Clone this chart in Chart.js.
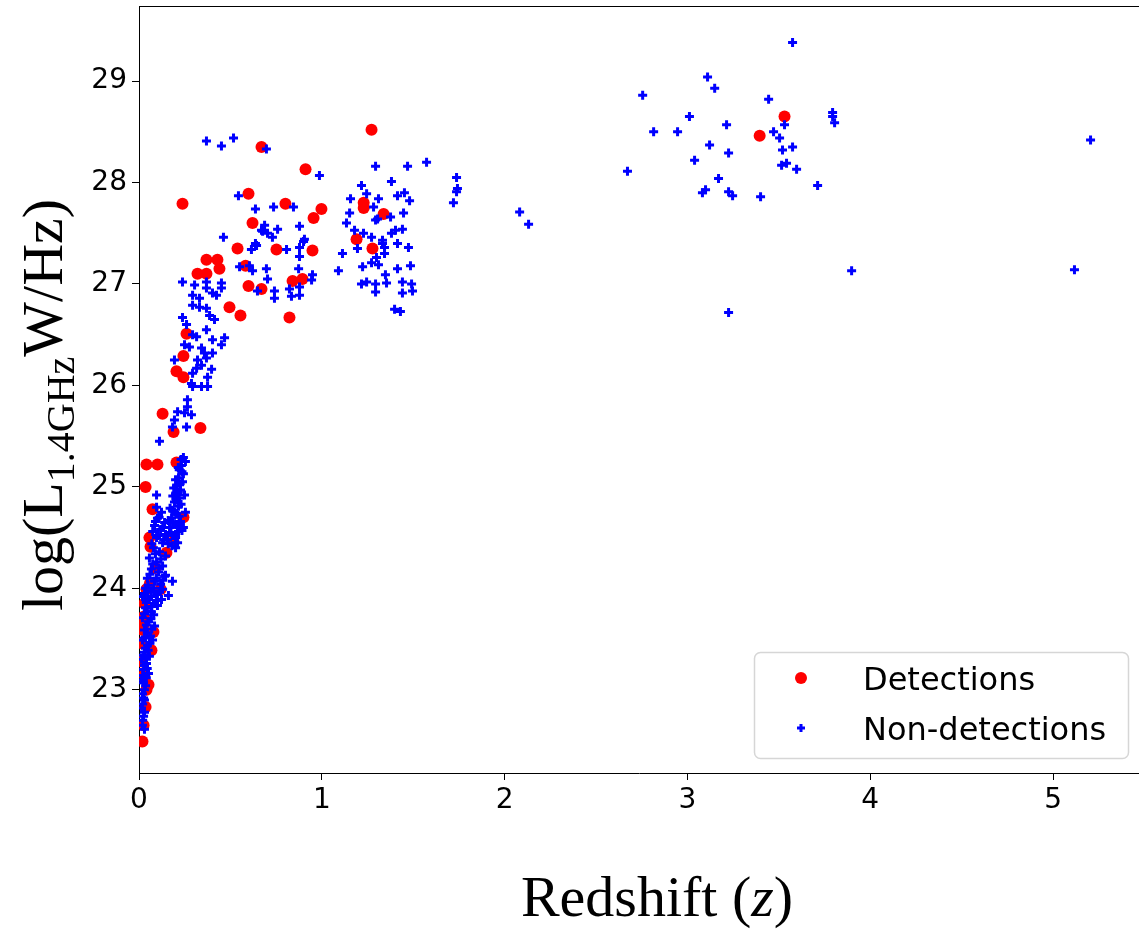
<!DOCTYPE html>
<html>
<head>
<meta charset="utf-8">
<script src="https://cdn.jsdelivr.net/npm/chart.js@4.4.1/dist/chart.umd.min.js"></script>
<style>
  html, body { margin: 0; padding: 0; background: #fff; }
  #wrap { width: 1139px; height: 932px; }
</style>
</head>
<body>
<div id="wrap"><canvas id="zChart" width="1139" height="932"></canvas></div>
<script>
// Detections (red circles): redshift z and log L(1.4GHz)
const detZLow = [0.041, 0.101, 0.205, 0.036, 0.074, 0.243, 0.189, 0.063, 0.150, 0.057,
  0.041, 0.118, 0.025, 0.025, 0.079, 0.014, 0.068, 0.014, 0.052, 0.041,
  0.036, 0.025, 0.019, 0.030, 0.019, 0.030, 0.060, 0.090];
const detLLow = [25.22, 25.22, 25.24, 25.00, 24.78, 24.70, 24.46, 24.41, 24.35, 24.50,
  23.99, 23.99, 23.72, 23.64, 23.57, 23.46, 23.39, 23.28, 23.05, 23.00,
  22.83, 22.65, 22.49, 23.85, 23.59, 23.15, 24.05, 24.20];

const detZHigh = [0.238, 0.599, 0.801, 0.998, 0.955, 0.621, 0.539, 0.949, 0.752, 0.369,
  0.429, 0.440, 0.320, 0.369, 0.583, 0.599, 0.670, 0.840, 0.894, 0.495,
  0.555, 0.823, 0.260, 0.243, 0.205, 0.243, 0.129, 0.189, 0.336, 1.272,
  0.911, 1.229, 1.229, 1.338, 1.190, 1.277, 0.670, 3.531, 3.395];
const detLHigh = [27.79, 27.89, 27.79, 27.74, 27.65, 27.60, 27.35, 27.33, 27.34, 27.24,
  27.24, 27.15, 27.10, 27.10, 27.18, 26.98, 26.95, 27.03, 27.05, 26.77,
  26.69, 26.67, 26.51, 26.29, 26.14, 26.08, 25.72, 25.54, 25.58, 28.52,
  28.13, 27.80, 27.75, 27.69, 27.44, 27.35, 28.35, 28.65, 28.46];

// Non-detections (blue plus)
const nonZCol = [0.243, 0.254, 0.232, 0.220, 0.243, 0.216, 0.238, 0.205, 0.227, 0.200,
  0.220, 0.194, 0.216, 0.183, 0.205, 0.178, 0.227, 0.200, 0.167, 0.216,
  0.189, 0.243, 0.156, 0.211, 0.254, 0.249];
const nonLCol = [25.29, 25.25, 25.21, 25.17, 25.13, 25.09, 25.05, 25.01, 24.97, 24.93,
  24.89, 24.85, 24.81, 24.77, 24.73, 24.69, 24.66, 24.63, 24.60, 24.56,
  24.52, 24.60, 24.48, 24.45, 24.75, 24.92];

const nonZStack = [0.096, 0.123, 0.101, 0.140, 0.085, 0.118, 0.145, 0.096, 0.129, 0.079,
  0.112, 0.145, 0.057, 0.096, 0.129, 0.068, 0.107, 0.140, 0.046, 0.085,
  0.118, 0.036, 0.068, 0.101, 0.019, 0.052, 0.085, 0.129, 0.145];
const nonLStack = [24.80, 24.75, 24.69, 24.65, 24.62, 24.58, 24.53, 24.50, 24.45, 24.40,
  24.36, 24.32, 24.30, 24.26, 24.22, 24.19, 24.16, 24.12, 24.10, 24.07,
  24.04, 24.00, 23.97, 23.94, 23.92, 23.89, 23.85, 23.99, 24.13];

const nonZBase = [0.036, 0.068, 0.101, 0.019, 0.052, 0.085, 0.030, 0.063, 0.019, 0.046,
  0.074, 0.030, 0.057, 0.014, 0.041, 0.025, 0.052, 0.014, 0.036, 0.019,
  0.030, 0.014, 0.025, 0.019, 0.030, 0.123,
  0.112, 0.096, 0.183, 0.161];
const nonLBase = [23.81, 23.77, 23.83, 23.71, 23.67, 23.63, 23.59, 23.53, 23.49, 23.44,
  23.49, 23.37, 23.33, 23.30, 23.26, 23.20, 23.16, 23.10, 23.04, 22.96,
  22.90, 22.82, 22.74, 22.65, 22.61, 23.89,
  25.45, 24.92, 24.07, 23.93];

// extra reads from the packed low-z columns
const nonZFill = [0.230, 0.215, 0.235, 0.200, 0.225, 0.190, 0.215, 0.185, 0.205, 0.230,
  0.170, 0.195, 0.220, 0.160, 0.185, 0.210, 0.235, 0.175, 0.200, 0.160,
  0.180, 0.200,
  0.110, 0.090, 0.130, 0.075, 0.105, 0.135, 0.070, 0.090, 0.120, 0.075,
  0.110, 0.060, 0.095, 0.130, 0.050, 0.080, 0.110, 0.030, 0.065, 0.095,
  0.040, 0.070,
  0.045, 0.080, 0.030, 0.065, 0.040, 0.070, 0.045, 0.030, 0.060, 0.035,
  0.050, 0.025, 0.040, 0.030, 0.045, 0.020, 0.040, 0.025, 0.030, 0.025,
  0.020, 0.030, 0.020];
const nonLFill = [25.27, 25.19, 25.15, 25.07, 25.03, 24.99, 24.95, 24.91, 24.87, 24.83,
  24.79, 24.75, 24.71, 24.67, 24.65, 24.61, 24.57, 24.55, 24.50, 24.44,
  24.42, 24.40,
  24.70, 24.66, 24.60, 24.56, 24.52, 24.48, 24.44, 24.34, 24.29, 24.24,
  24.20, 24.14, 24.10, 24.08, 24.03, 24.00, 23.97, 23.95, 23.92, 23.88,
  23.86, 23.82,
  23.78, 23.74, 23.75, 23.70, 23.64, 23.60, 23.56, 23.51, 23.46, 23.41,
  23.39, 23.34, 23.31, 23.24, 23.21, 23.14, 23.12, 23.07, 23.00, 22.92,
  22.86, 22.78, 22.70];

const nonZMid = [0.369, 0.451, 0.517, 0.697, 0.544, 0.637, 0.736, 0.845, 0.687, 0.676,
  0.703, 0.758, 0.670, 0.730, 0.878, 0.462, 0.637, 0.615, 0.643, 0.807,
  0.900, 0.878, 0.878, 0.905, 1.113, 0.550, 0.604, 0.621, 0.697, 0.703,
  0.873, 0.949, 0.944, 1.091, 0.741, 0.741, 0.823, 0.834, 0.878, 0.878,
  0.648, 0.238, 0.304, 0.369, 0.369, 0.451, 0.451, 0.293, 0.331, 0.402,
  0.424, 0.293, 0.331, 0.369, 0.386, 0.413, 0.238, 0.260, 0.369, 0.293,
  0.315, 0.402, 0.468, 0.451, 0.249, 0.276, 0.342, 0.358, 0.402, 0.194,
  0.320, 0.342, 0.369, 0.397, 0.293, 0.315, 0.375, 0.287, 0.293, 0.342,
  0.375, 0.265, 0.265, 0.211, 0.249, 0.287, 0.194, 0.183, 0.260, 0.987];
const nonLMid = [28.41, 28.36, 28.44, 28.33, 27.87, 27.74, 27.76, 27.76, 27.58, 27.52,
  27.50, 27.54, 27.53, 27.46, 27.57, 27.46, 27.40, 27.34, 27.38, 27.34,
  27.42, 27.36, 27.27, 27.44, 27.30, 27.17, 27.18, 27.13, 27.15, 27.05,
  27.15, 27.09, 27.04, 27.13, 26.93, 26.86, 26.95, 26.88, 26.89, 26.97,
  26.93, 27.02, 26.99, 27.02, 26.96, 27.01, 26.96, 26.89, 26.86, 26.91,
  26.89, 26.79, 26.77, 26.76, 26.69, 26.65, 26.67, 26.60, 26.55, 26.50,
  26.48, 26.45, 26.47, 26.40, 26.40, 26.38, 26.37, 26.32, 26.32, 26.25,
  26.25, 26.20, 26.27, 26.16, 26.12, 26.17, 26.08, 26.02, 25.99, 25.99,
  25.99, 25.86, 25.79, 25.74, 25.73, 25.71, 25.66, 25.59, 25.59, 28.07];

const nonZHigh = [1.294, 1.469, 1.573, 1.737, 1.742, 1.737, 1.720, 1.381, 1.217, 1.245,
  1.157, 1.310, 1.283, 1.414, 1.452, 1.480, 1.152, 1.135, 1.447, 1.376,
  1.305, 1.294, 1.179, 1.228, 1.381, 1.403, 1.441, 1.272, 1.332, 1.343,
  1.332, 1.195, 1.414, 1.474, 1.343, 1.299, 1.223, 1.272, 1.310, 1.414,
  1.485, 1.348, 1.354, 1.217, 1.245, 1.294, 1.294, 1.441, 1.441, 1.491,
  1.496, 1.398, 1.430];
const nonLHigh = [28.16, 28.16, 28.20, 28.05, 27.94, 27.91, 27.80, 28.01, 27.97, 27.89,
  27.84, 27.84, 27.76, 27.87, 27.90, 27.82, 27.70, 27.60, 27.70, 27.66,
  27.64, 27.63, 27.53, 27.50, 27.50, 27.53, 27.54, 27.46, 27.43, 27.36,
  27.40, 27.35, 27.40, 27.36, 27.30, 27.26, 27.17, 27.21, 27.19, 27.15,
  27.18, 27.09, 27.01, 27.00, 27.02, 27.00, 26.92, 27.02, 26.91, 27.00,
  26.93, 26.75, 26.73];

const nonZFar = [3.575, 3.110, 3.149, 2.755, 3.444, 3.794, 3.794, 3.805, 3.011, 2.815,
  2.946, 3.214, 3.531, 3.471, 3.504, 3.121, 3.225, 3.575, 3.520, 3.039,
  2.672, 3.515, 3.542, 3.597, 3.170, 3.082, 3.099, 3.225, 3.247, 3.400,
  3.712, 2.082, 2.131, 3.898, 5.117, 3.225, 5.205];
const nonLFar = [29.38, 29.04, 28.93, 28.86, 28.82, 28.69, 28.65, 28.59, 28.65, 28.50,
  28.50, 28.57, 28.57, 28.50, 28.44, 28.37, 28.29, 28.35, 28.32, 28.22,
  28.11, 28.17, 28.19, 28.13, 28.04, 27.90, 27.93, 27.91, 27.87, 27.86,
  27.97, 27.71, 27.59, 27.13, 27.14, 26.72, 28.42];

const xTicks = [0, 1, 2, 3, 4, 5];
const yTicks = [23, 24, 25, 26, 27, 28, 29];
const seriesNames = ['Detections', 'Non-detections'];

const toPoints = (xs, ys) => xs.map((x, i) => ({ x: x, y: ys[i] }));

const detPoints = toPoints(detZLow, detLLow).concat(toPoints(detZHigh, detLHigh));
const nonPoints = toPoints(nonZCol, nonLCol)
  .concat(toPoints(nonZStack, nonLStack))
  .concat(toPoints(nonZBase, nonLBase))
  .concat(toPoints(nonZFill, nonLFill))
  .concat(toPoints(nonZMid, nonLMid))
  .concat(toPoints(nonZHigh, nonLHigh))
  .concat(toPoints(nonZFar, nonLFar));

const RED = '#ff0000';
const BLUE = '#0000ff';

// frame top line, axis titles (with subscript / italic) and the boxed legend
const figureText = {
  id: 'figureText',
  afterDraw(chart) {
    const ctx = chart.ctx;
    const a = chart.chartArea;
    ctx.save();

    ctx.strokeStyle = '#000';
    ctx.lineWidth = 1;
    ctx.beginPath();
    ctx.moveTo(a.left, a.top + 0.5);
    ctx.lineTo(a.right, a.top + 0.5);
    ctx.stroke();

    // y title: log(L_1.4GHz W/Hz)
    const big = '58px "Liberation Serif", "DejaVu Serif", serif';
    const sub = '40px "Liberation Serif", "DejaVu Serif", serif';
    ctx.fillStyle = '#000';
    ctx.textBaseline = 'alphabetic';
    ctx.textAlign = 'left';
    ctx.font = big; const w1 = ctx.measureText('log(L').width;
    ctx.font = sub; const w2 = ctx.measureText('1.4GHz').width;
    ctx.font = big; const w3 = ctx.measureText('W/Hz)').width;
    const total = w1 + w2 + w3;
    ctx.save();
    ctx.translate(62, 405 + total / 2);
    ctx.rotate(-Math.PI / 2);
    ctx.font = big; ctx.fillText('log(L', 0, 0);
    ctx.font = sub; ctx.fillText('1.4GHz', w1, 12);
    ctx.font = big; ctx.fillText('W/Hz)', w1 + w2, 0);
    ctx.restore();

    // x title: Redshift (z)
    const it = 'italic 58px "Liberation Serif", "DejaVu Serif", serif';
    ctx.font = big; const r1 = ctx.measureText('Redshift (').width;
    ctx.font = it; const r2 = ctx.measureText('z').width;
    ctx.font = big; const r3 = ctx.measureText(')').width;
    const xs = 657 - (r1 + r2 + r3) / 2;
    const yb = 916;
    ctx.font = big; ctx.fillText('Redshift (', xs, yb);
    ctx.font = it; ctx.fillText('z', xs + r1, yb);
    ctx.font = big; ctx.fillText(')', xs + r1 + r2, yb);

    // legend box
    const bx = 754.5, by = 652.5, bw = 374, bh = 106, br = 6;
    ctx.beginPath();
    ctx.moveTo(bx + br, by);
    ctx.arcTo(bx + bw, by, bx + bw, by + bh, br);
    ctx.arcTo(bx + bw, by + bh, bx, by + bh, br);
    ctx.arcTo(bx, by + bh, bx, by, br);
    ctx.arcTo(bx, by, bx + bw, by, br);
    ctx.closePath();
    ctx.fillStyle = 'rgba(255,255,255,0.8)';
    ctx.fill();
    ctx.strokeStyle = '#d6d6d6';
    ctx.lineWidth = 1.5;
    ctx.stroke();

    ctx.fillStyle = RED;
    ctx.beginPath(); ctx.arc(801, 678, 6, 0, Math.PI * 2); ctx.fill();
    ctx.strokeStyle = BLUE; ctx.lineWidth = 3;
    ctx.beginPath();
    ctx.moveTo(797, 728); ctx.lineTo(805, 728);
    ctx.moveTo(801, 724); ctx.lineTo(801, 732);
    ctx.stroke();

    ctx.fillStyle = '#000';
    ctx.font = '32px "DejaVu Sans", sans-serif';
    ctx.fillText(seriesNames[0], 863, 690);
    ctx.fillText(seriesNames[1], 863, 740);

    ctx.restore();
  }
};

const tickFont = { family: '"DejaVu Sans", sans-serif', size: 28 };

new Chart(document.getElementById('zChart'), {
  type: 'scatter',
  data: {
    datasets: [{
      label: seriesNames[0],
      data: detPoints,
      pointStyle: 'circle',
      pointRadius: 6,
      pointBorderWidth: 0,
      backgroundColor: RED,
      borderColor: RED,
      order: 2
    }, {
      label: seriesNames[1],
      data: nonPoints,
      pointStyle: 'cross',
      pointRadius: 4.5,
      pointBorderWidth: 3,
      backgroundColor: BLUE,
      borderColor: BLUE,
      order: 1
    }]
  },
  options: {
    responsive: false,
    animation: false,
    layout: { autoPadding: false, padding: { top: 6, left: 0, right: 0, bottom: 0 } },
    plugins: {
      legend: { display: false },
      tooltip: { enabled: false }
    },
    scales: {
      x: {
        type: 'linear',
        min: 0,
        max: 5.47,
        afterBuildTicks: s => { s.ticks = xTicks.map(v => ({ value: v })); },
        afterFit: s => { s.height = 159; s.paddingLeft = 0; s.paddingRight = 0; },
        grid: { drawOnChartArea: false, drawTicks: true, tickLength: 7, color: '#000', tickWidth: 1 },
        border: { display: true, color: '#000', width: 1 },
        ticks: { color: '#000', font: tickFont, padding: 4, maxRotation: 0, autoSkip: false }
      },
      y: {
        type: 'linear',
        min: 22.18,
        max: 29.74,
        afterBuildTicks: s => { s.ticks = yTicks.map(v => ({ value: v })); },
        afterFit: s => { s.width = 139; s.paddingTop = 0; s.paddingBottom = 0; },
        grid: { drawOnChartArea: false, drawTicks: true, tickLength: 7, color: '#000', tickWidth: 1 },
        border: { display: true, color: '#000', width: 1 },
        ticks: { color: '#000', font: tickFont, padding: 5, autoSkip: false }
      }
    }
  },
  plugins: [figureText]
});
</script>
</body>
</html>
